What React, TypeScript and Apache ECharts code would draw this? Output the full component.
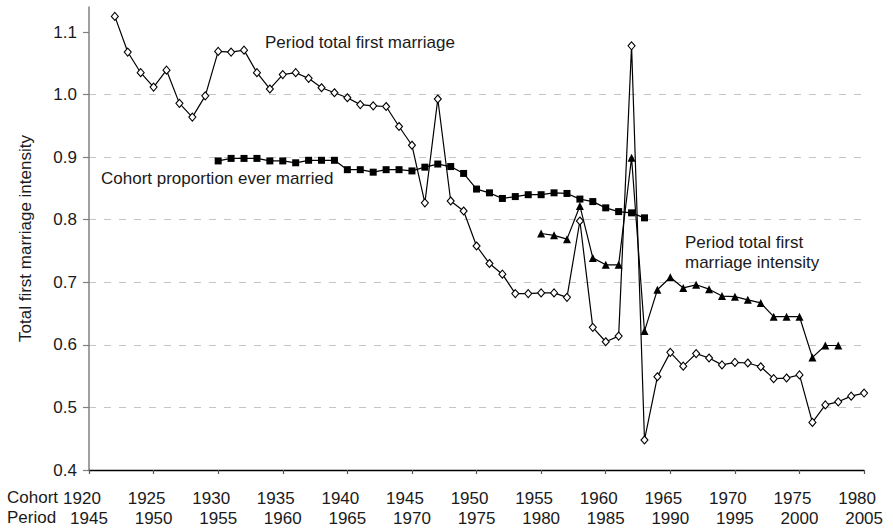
import React, { useEffect, useRef } from "react";
import * as echarts from "echarts";

const COHORT_TICKS = [1920, 1925, 1930, 1935, 1940, 1945, 1950, 1955, 1960, 1965, 1970, 1975, 1980];
const PERIOD_TICKS = [1945, 1950, 1955, 1960, 1965, 1970, 1975, 1980, 1985, 1990, 1995, 2000, 2005];
const Y_TICKS = [0.4, 0.5, 0.6, 0.7, 0.8, 0.9, 1.0, 1.1];

// Period total first marriage (plotted against cohort = period - 25)
const periodTfmYears = [
  1922, 1923, 1924, 1925, 1926, 1927, 1928, 1929, 1930, 1931, 1932, 1933, 1934, 1935, 1936, 1937,
  1938, 1939, 1940, 1941, 1942, 1943, 1944, 1945, 1946, 1947, 1948, 1949, 1950, 1951, 1952, 1953,
  1954, 1955, 1956, 1957, 1958, 1959, 1960, 1961, 1962, 1963, 1964, 1965, 1966, 1967, 1968, 1969,
  1970, 1971, 1972, 1973, 1974, 1975, 1976, 1977, 1978, 1979, 1980,
];
const periodTfmValues = [
  1.125, 1.068, 1.035, 1.012, 1.039, 0.986, 0.964, 0.998, 1.069, 1.068, 1.071, 1.035, 1.009, 1.032,
  1.035, 1.026, 1.011, 1.003, 0.995, 0.984, 0.982, 0.981, 0.949, 0.919, 0.827, 0.993, 0.83, 0.814,
  0.758, 0.73, 0.713, 0.682, 0.682, 0.683, 0.683, 0.676, 0.798, 0.628, 0.605, 0.614, 1.078, 0.448,
  0.549, 0.588, 0.566, 0.586, 0.579, 0.568, 0.572, 0.571, 0.565, 0.546, 0.547, 0.552, 0.476, 0.504,
  0.509, 0.518, 0.523,
];

// Cohort proportion ever married
const cohortYears = [
  1930, 1931, 1932, 1933, 1934, 1935, 1936, 1937, 1938, 1939, 1940, 1941, 1942, 1943, 1944, 1945,
  1946, 1947, 1948, 1949, 1950, 1951, 1952, 1953, 1954, 1955, 1956, 1957, 1958, 1959, 1960, 1961,
  1962, 1963,
];
const cohortValues = [
  0.894, 0.898, 0.898, 0.898, 0.894, 0.894, 0.891, 0.895, 0.895, 0.895, 0.88, 0.88, 0.876, 0.88,
  0.88, 0.878, 0.884, 0.889, 0.885, 0.874, 0.849, 0.843, 0.834, 0.837, 0.84, 0.84, 0.843, 0.842,
  0.833, 0.829, 0.819, 0.813, 0.811, 0.803,
];

// Period total first marriage intensity
const intensityYears = [
  1955, 1956, 1957, 1958, 1959, 1960, 1961, 1962, 1963, 1964, 1965, 1966, 1967, 1968, 1969, 1970,
  1971, 1972, 1973, 1974, 1975, 1976, 1977, 1978,
];
const intensityValues = [
  0.778, 0.775, 0.769, 0.822, 0.739, 0.728, 0.728, 0.899, 0.622, 0.688, 0.708, 0.691, 0.696, 0.689,
  0.678, 0.677, 0.672, 0.667, 0.645, 0.645, 0.645, 0.58, 0.599, 0.599,
];

const FONT = "'Liberation Sans', Arial, Helvetica, sans-serif";
const TEXT = "#1a1a1a";

const pairs = (xs: number[], ys: number[]) => xs.map((x, i) => [x, ys[i]]);

export default function App() {
  const ref = useRef<HTMLDivElement>(null);

  useEffect(() => {
    if (!ref.current) return;
    const chart = echarts.init(ref.current, undefined, { renderer: "svg" });
    const option: any = {
      animation: false,
      backgroundColor: "#ffffff",
      textStyle: { fontFamily: FONT },
      grid: { left: 89, right: 21, top: 7, bottom: 62, containLabel: false },
      xAxis: {
        type: "value",
        min: 1920,
        max: 1980,
        interval: 5,
        axisLine: { show: true, lineStyle: { color: "#000000", width: 1.3 } },
        axisTick: { show: true, inside: false, length: 4, lineStyle: { color: "#555555", width: 1.2 } },
        splitLine: { show: false },
        axisLabel: {
          margin: 18,
          color: TEXT,
          fontSize: 17,
          fontFamily: FONT,
          formatter: (v: number) => {
            const i = COHORT_TICKS.indexOf(v);
            if (i < 0) return "";
            return `{c|${COHORT_TICKS[i]}}\n{p|${PERIOD_TICKS[i]}}`;
          },
          rich: {
            c: { fontSize: 17, fontFamily: FONT, color: TEXT, lineHeight: 20, padding: [0, 14, 0, 0] },
            p: { fontSize: 17, fontFamily: FONT, color: TEXT, lineHeight: 20 },
          },
        },
      },
      yAxis: {
        type: "value",
        min: 0.4,
        max: 1.14,
        interval: 0.1,
        name: "Total first marriage intensity",
        nameLocation: "middle",
        nameGap: 55,
        nameTextStyle: { fontSize: 17, fontFamily: FONT, color: TEXT },
        axisLine: { show: true, lineStyle: { color: "#808080", width: 1.5 } },
        axisTick: {
          show: true,
          length: 6,
          customValues: Y_TICKS,
          lineStyle: { color: "#808080", width: 1.2 },
        },
        axisLabel: {
          margin: 12,
          color: TEXT,
          fontSize: 17,
          fontFamily: FONT,
          customValues: Y_TICKS,
          formatter: (v: number) => v.toFixed(1),
        },
        splitLine: {
          show: true,
          showMinLine: false,
          showMaxLine: false,
          lineStyle: { color: "#c4c4c4", type: [7, 8], width: 1 },
        },
      },
      graphic: [
        { type: "text", left: 7, top: 489, style: { text: "Cohort", fontSize: 17, fontFamily: FONT, fill: TEXT } },
        { type: "text", left: 7, top: 509, style: { text: "Period", fontSize: 17, fontFamily: FONT, fill: TEXT } },
        { type: "text", left: 265, top: 34, style: { text: "Period total first marriage", fontSize: 17, fontFamily: FONT, fill: TEXT } },
        { type: "text", left: 101, top: 170, style: { text: "Cohort proportion ever married", fontSize: 17, fontFamily: FONT, fill: TEXT } },
        { type: "text", left: 685, top: 234, style: { text: "Period total first", fontSize: 17, fontFamily: FONT, fill: TEXT } },
        { type: "text", left: 685, top: 254, style: { text: "marriage intensity", fontSize: 17, fontFamily: FONT, fill: TEXT } },
      ],
      series: [
        {
          name: "Cohort proportion ever married",
          type: "line",
          data: pairs(cohortYears, cohortValues),
          symbol: "rect",
          symbolSize: 7,
          showAllSymbol: true,
          lineStyle: { color: "#000000", width: 1.2 },
          itemStyle: { color: "#000000", borderColor: "#000000", borderWidth: 0 },
          z: 3,
        },
        {
          name: "Period total first marriage intensity",
          type: "line",
          data: pairs(intensityYears, intensityValues),
          symbol: "triangle",
          symbolSize: 8,
          showAllSymbol: true,
          lineStyle: { color: "#000000", width: 1.2 },
          itemStyle: { color: "#000000", borderColor: "#000000", borderWidth: 0 },
          z: 4,
        },
        {
          name: "Period total first marriage",
          type: "line",
          data: pairs(periodTfmYears, periodTfmValues),
          symbol: "diamond",
          symbolSize: [7, 8],
          showAllSymbol: true,
          lineStyle: { color: "#000000", width: 1.2 },
          itemStyle: { color: "#ffffff", borderColor: "#000000", borderWidth: 1.1 },
          z: 5,
        },
      ],
    };
    chart.setOption(option);
    return () => chart.dispose();
  }, []);

  return (
    <div
      ref={ref}
      style={{ position: "fixed", left: 0, top: 0, width: 893, height: 532, background: "#fff" }}
    />
  );
}
